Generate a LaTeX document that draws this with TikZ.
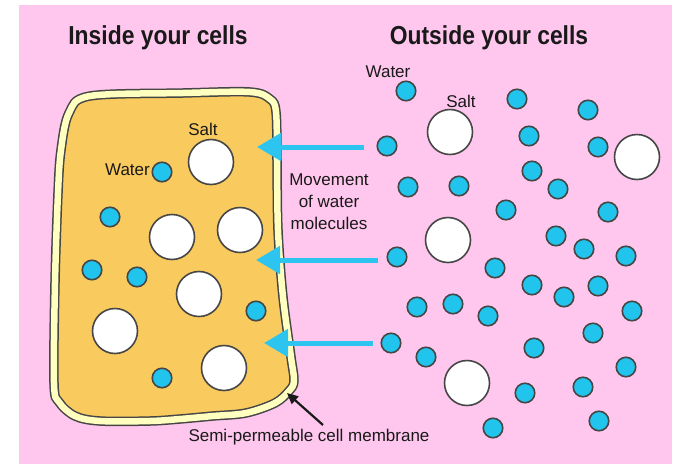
\documentclass[tikz,border=0pt]{standalone}
\usepackage{fontspec}
\setmainfont{Liberation Sans}
\newfontfamily\headfont[FakeStretch=0.88]{Liberation Sans}
\usetikzlibrary{arrows.meta}

\definecolor{bgpink}{RGB}{255,199,237}
\definecolor{cellfill}{RGB}{249,203,94}
\definecolor{membrane}{RGB}{255,255,192}
\definecolor{edge}{RGB}{70,70,70}
\definecolor{waterblue}{RGB}{33,196,236}
\definecolor{flowblue}{RGB}{45,197,240}
\definecolor{ink}{RGB}{25,25,25}

\tikzset{
  water/.style={circle, draw=edge, fill=waterblue, line width=1.6pt,
    minimum size=19.5pt, inner sep=0pt},
  salt/.style={circle, draw=edge, fill=white, line width=1.6pt,
    minimum size=45pt, inner sep=0pt},
  heading/.style={font=\headfont\bfseries\fontsize{26}{30}\selectfont,
    text=ink, inner sep=0pt},
  txt/.style={font=\fontsize{17}{22}\selectfont, text=ink, inner sep=0pt},
  flow/.style={draw=flowblue, line width=5pt,
    -{Triangle[length=24pt,width=27pt]}},
  pointer/.style={draw=ink, line width=2.2pt,
    -{Triangle[length=11pt,width=10pt]}},
}

\begin{document}
\begin{tikzpicture}[x=1pt,y=-1pt]
  \useasboundingbox (0,0) rectangle (677,464);
  % background panel
  \fill[bgpink] (19,5) rectangle (672,464);

  % headings
  \node[heading] (hin)  at (158,38) {Inside your cells};
  \node[heading] (hout) at (489,38) {Outside your cells};

  % the cell: yellow body with a double-edged membrane
  \path[fill=cellfill, line join=round,
        postaction={draw=edge, line width=9.5pt},
        postaction={draw=membrane, line width=6.5pt}]
    plot[smooth cycle, tension=0.55] coordinates {
      (90,96) (183,93) (250,92) (270,99) (276,112) (277,160) (278,230)
      (283,297) (291,357) (294,381) (289,391) (275,403) (246,413)
      (213,416) (180,419) (150,421) (100,421) (75,416) (59,402)
      (54,383) (55,283) (58,193) (61,150) (69,113)};

  % particles inside the cell
  \node[salt]  (si1) at (211,162) {};
  \node[water] (wi1) at (162,172) {};
  \node[water] (wi2) at (110,217) {};
  \node[salt]  (si2) at (172,237) {};
  \node[salt]  (si3) at (240,230) {};
  \node[water] (wi3) at (92,270) {};
  \node[water] (wi4) at (137,277) {};
  \node[salt]  (si4) at (199,294) {};
  \node[water] (wi5) at (256,311) {};
  \node[salt]  (si5) at (115,331) {};
  \node[salt]  (si6) at (224,368) {};
  \node[water] (wi6) at (162,378) {};

  \node[txt] (lsi) at (203,129) {Salt};
  \node[txt, anchor=east] (lwi) at (150,170) {Water};

  % particles outside the cell
  \node[water] (wo1)  at (406,91) {};
  \node[water] (wo2)  at (517,99) {};
  \node[water] (wo3)  at (588,110) {};
  \node[salt]  (so1)  at (450,132) {};
  \node[water] (wo4)  at (387,146) {};
  \node[water] (wo5)  at (529,136) {};
  \node[water] (wo6)  at (598,147) {};
  \node[salt]  (so2)  at (637,157) {};
  \node[water] (wo7)  at (532,171) {};
  \node[water] (wo8)  at (408,187) {};
  \node[water] (wo9)  at (459,186) {};
  \node[water] (wo10) at (558,189) {};
  \node[water] (wo11) at (506,210) {};
  \node[water] (wo12) at (608,212) {};
  \node[salt]  (so3)  at (448,240) {};
  \node[water] (wo13) at (556,236) {};
  \node[water] (wo14) at (584,249) {};
  \node[water] (wo15) at (626,256) {};
  \node[water] (wo16) at (397,257) {};
  \node[water] (wo17) at (495,268) {};
  \node[water] (wo18) at (532,285) {};
  \node[water] (wo19) at (564,297) {};
  \node[water] (wo20) at (598,286) {};
  \node[water] (wo21) at (417,307) {};
  \node[water] (wo22) at (453,304) {};
  \node[water] (wo23) at (488,316) {};
  \node[water] (wo24) at (632,311) {};
  \node[water] (wo25) at (593,333) {};
  \node[water] (wo26) at (391,343) {};
  \node[water] (wo27) at (534,348) {};
  \node[water] (wo28) at (426,357) {};
  \node[water] (wo29) at (626,367) {};
  \node[salt]  (so4)  at (467,383) {};
  \node[water] (wo30) at (583,387) {};
  \node[water] (wo31) at (525,393) {};
  \node[water] (wo32) at (599,421) {};
  \node[water] (wo33) at (493,428) {};

  \node[txt] (lwo) at (388,72) {Water};
  \node[txt] (lso) at (461,101) {Salt};

  % movement of water into the cell
  \coordinate (f1s) at (364,147);
  \coordinate (f1e) at (257,147);
  \coordinate (f2s) at (378,260);
  \coordinate (f2e) at (256,260);
  \coordinate (f3s) at (373,343);
  \coordinate (f3e) at (264,343);
  \draw[flow] (f1s) -- (f1e);
  \draw[flow] (f2s) -- (f2e);
  \draw[flow] (f3s) -- (f3e);

  \node[txt, align=center] (lmv) at (329,202)
    {Movement\\of water\\molecules};

  % membrane label
  \node[txt] (lmem) at (309,437) {Semi-permeable cell membrane};
  \coordinate (mtip) at (287,393);
  \coordinate (mtail) at (323,425);
  \draw[pointer] (mtail) -- (mtip);
\end{tikzpicture}
\end{document}
